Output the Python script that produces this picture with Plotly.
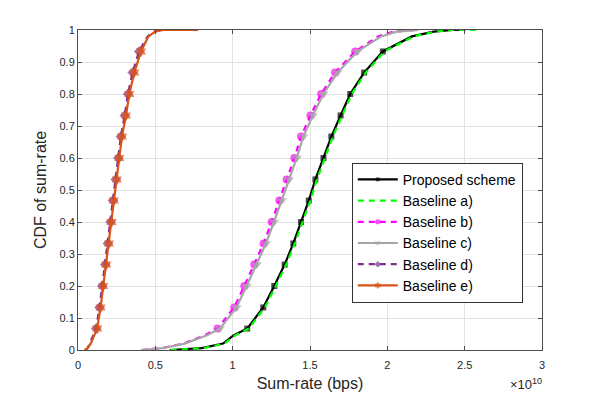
import plotly.graph_objects as go

# CDF levels (same for every curve); x values are in units of 1e10 bps
cdf_levels = [0.0, 0.006, 0.02, 0.045, 0.067, 0.133, 0.2, 0.267, 0.333, 0.4, 0.467, 0.533,
              0.6, 0.667, 0.733, 0.8, 0.867, 0.933, 0.98, 0.995, 1.0, 1.0]
# which points carry a marker (tails are plain line)
marked = [False, False, False, False] + [True] * 14 + [False, False, False, False]

proposed_x = [0.594, 0.800, 0.938, 1.003, 1.094, 1.198, 1.269, 1.336, 1.392, 1.442, 1.492, 1.535,
              1.587, 1.638, 1.698, 1.760, 1.850, 1.971, 2.159, 2.300, 2.420, 2.505]
baseline_a_x = [0.600, 0.810, 0.948, 1.013, 1.104, 1.208, 1.279, 1.346, 1.402, 1.452, 1.502, 1.545,
                1.597, 1.648, 1.708, 1.770, 1.860, 1.981, 2.170, 2.310, 2.430, 2.580]
baseline_b_x = [0.410, 0.540, 0.680, 0.815, 0.902, 1.010, 1.075, 1.140, 1.200, 1.252, 1.302, 1.349,
                1.399, 1.442, 1.503, 1.572, 1.662, 1.792, 1.940, 2.040, 2.150, 2.180]
baseline_c_x = [0.410, 0.550, 0.690, 0.830, 0.917, 1.025, 1.090, 1.155, 1.215, 1.267, 1.317, 1.364,
                1.414, 1.457, 1.518, 1.587, 1.677, 1.807, 1.960, 2.060, 2.170, 2.200]
baseline_d_x = [0.050, 0.062, 0.076, 0.098, 0.117, 0.139, 0.156, 0.176, 0.193, 0.210, 0.225, 0.244,
                0.260, 0.277, 0.302, 0.323, 0.353, 0.395, 0.450, 0.490, 0.530, 0.530]
baseline_e_x = [0.042, 0.062, 0.082, 0.105, 0.124, 0.146, 0.163, 0.183, 0.200, 0.217, 0.232, 0.251,
                0.267, 0.284, 0.310, 0.332, 0.364, 0.407, 0.455, 0.500, 0.550, 0.777]

x_ticks = [0, 0.5, 1, 1.5, 2, 2.5, 3]
y_ticks = [0, 0.1, 0.2, 0.3, 0.4, 0.5, 0.6, 0.7, 0.8, 0.9, 1]

series = [
    ("Proposed scheme", proposed_x, "#000000", "solid", "square", 6),
    ("Baseline a)", baseline_a_x, "#00ff00", "6px,5px", None, 0),
    ("Baseline b)", baseline_b_x, "#ff00ff", "6px,5px", "circle", 8),
    ("Baseline c)", baseline_c_x, "#a6a6a6", "solid", "triangle-down", 9),
    ("Baseline d)", baseline_d_x, "#7e2f8e", "6px,5px", "diamond", 8),
    ("Baseline e)", baseline_e_x, "#d95319", "solid", "hexagram", 9),
]

fig = go.Figure()
for name, xs, color, dash, symbol, msize in series:
    bps = [v * 1e10 for v in xs]
    if symbol is None:
        fig.add_trace(go.Scatter(x=bps, y=cdf_levels, mode="lines", name=name,
                                 line=dict(color=color, width=2.2, dash=dash)))
    else:
        sizes = [msize if m else 0 for m in marked]
        fig.add_trace(go.Scatter(x=bps, y=cdf_levels, mode="lines+markers", name=name,
                                 line=dict(color=color, width=2.2, dash=dash),
                                 marker=dict(symbol=symbol, size=sizes, color=color,
                                             line=dict(width=0))))

axis_common = dict(
    showgrid=True, gridcolor="#e3e3e3", gridwidth=1,
    showline=True, linecolor="#4d4d4d", linewidth=1, mirror="ticks",
    ticks="inside", ticklen=4, tickcolor="#4d4d4d", automargin=False,
    zeroline=False, tickfont=dict(size=11, color="#262626"),
)

fig.update_xaxes(
    range=[0, 3e10], tickvals=[t * 1e10 for t in x_ticks],
    ticktext=[f"{t:g}" for t in x_ticks], ticklabelstandoff=5,
    title=dict(text="Sum-rate (bps)", font=dict(size=16, color="#262626"), standoff=7),
    **axis_common,
)
fig.update_yaxes(
    range=[0, 1], tickvals=y_ticks, ticktext=[f"{t:g}" for t in y_ticks],
    title=dict(text="CDF of sum-rate", font=dict(size=16, color="#262626"), standoff=8),
    **axis_common,
)

fig.add_annotation(text="×10<sup>10</sup>", xref="paper", yref="paper",
                   x=1.0, y=0, xanchor="right", yanchor="top", yshift=-24, xshift=2,
                   showarrow=False, font=dict(size=13, color="#262626"))

# page body adds an 8px offset, so the figure is sized to fit the window
fig.update_layout(
    width=591, height=386,
    margin=dict(l=70, r=57, t=22, b=44),
    paper_bgcolor="white", plot_bgcolor="white",
    font=dict(family="Liberation Sans, Arial, sans-serif", color="#262626"),
    showlegend=True,
    legend=dict(x=0.59, y=0.585, xanchor="left", yanchor="top",
                bgcolor="white", bordercolor="#333333", borderwidth=1,
                font=dict(size=14, color="#000000"), tracegroupgap=0,
                itemwidth=40),
)

fig.write_html("out.html")
